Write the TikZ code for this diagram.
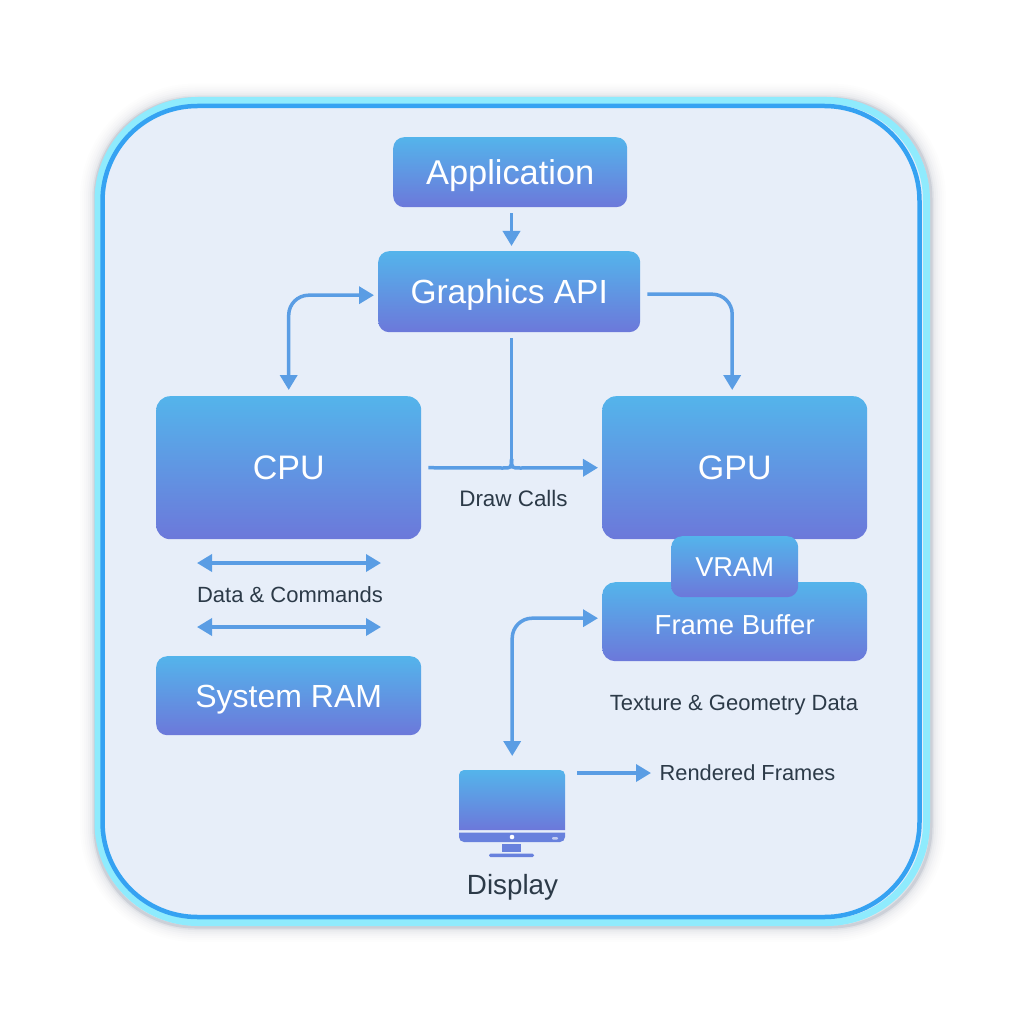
\documentclass[tikz,border=0pt]{standalone}
\usepackage{fontspec}
\setmainfont{Liberation Sans}
\usetikzlibrary{arrows.meta,calc}
\definecolor{btop}{HTML}{54B4EB}
\definecolor{bbot}{HTML}{6C78DA}
\definecolor{conncol}{HTML}{5A9DE4}
\definecolor{panelfill}{HTML}{E7EEF9}
\definecolor{panelcyan}{HTML}{8FEBFD}
\definecolor{panelblue}{HTML}{35A2F2}
\definecolor{inktxt}{HTML}{2C3A48}
\definecolor{shadowcol}{HTML}{1E3A5A}
\newcommand{\fsz}[1]{\fontsize{#1}{#1}\selectfont}
\tikzset{
  box/.style={rectangle,rounded corners=#1,top color=btop,bottom color=bbot,middle color=btop!50!bbot,draw=none,text=white,inner sep=0pt,anchor=north west},
  box/.default=11pt,
  base/.style={text height=#1,text depth=0pt},
  conn/.style={draw=conncol,line width=3.5pt,rounded corners=20pt,-{Triangle[length=15pt,width=17pt]}},
  dbl/.style={conn,{Triangle[length=15pt,width=17pt]}-{Triangle[length=15pt,width=17pt]}},
  plain/.style={draw=conncol,line width=3.5pt},
  lbl/.style={text=inktxt,inner sep=0pt,anchor=center},
}
\begin{document}
\begin{tikzpicture}[x=1pt,y=-1pt]
\useasboundingbox (0,0) rectangle (1024,1024);
\fill[white] (0,0) rectangle (1024,1024);
% soft shadow
\foreach \w/\o in {30/0.006,26/0.008,22/0.01,18/0.012,14/0.018,10/0.025,6/0.05,3/0.1}{
  \draw[shadowcol,opacity=\o,line width=\w pt,rounded corners=100pt] (95,98.5) rectangle (931,927);
}
% panel
\draw[draw=panelcyan,fill=panelfill,line width=7pt,rounded corners=100pt] (98,100.5) rectangle (926.5,922.5);
\draw[draw=panelblue,line width=4.5pt,rounded corners=95pt] (102.5,106) rectangle (919.5,917);
% boxes
\node[box,base=24pt,minimum width=234pt,minimum height=70pt] (app) at (393,137) {\fsz{34.4}Application};
\node[box,base=23pt,minimum width=262pt,minimum height=81pt] (api) at (378,251) {\fsz{33.5}Graphics API};
\node[box=14pt,minimum width=265pt,minimum height=143pt] (cpu) at (156,396) {\fsz{34}CPU};
\node[box=14pt,minimum width=265pt,minimum height=143pt] (gpu) at (602,396) {\fsz{34}GPU};
\node[box=13pt,base=25pt,minimum width=265pt,minimum height=79pt] (fb) at (602,582) {\fsz{27.5}Frame Buffer};
\node[box,minimum width=127pt,minimum height=61pt] (vram) at (671,536) {\fsz{27.3}VRAM};
\node[box,base=23pt,minimum width=265pt,minimum height=79pt] (ram) at (156,656) {\fsz{32}System RAM};
% monitor
\node[rectangle,inner sep=0pt,anchor=north west,minimum width=106pt,minimum height=60pt] (mon) at (459,770) {};
\path[top color=btop,bottom color=bbot,middle color=btop!50!bbot] (459,830) [rounded corners=5pt] -- (459,770) -- (565,770) [sharp corners] -- (565,830) -- cycle;
\fill[bbot!85!btop] (459,832.5) -- (565,832.5) [rounded corners=5pt] -- (565,842) -- (459,842) [sharp corners] -- cycle;
\fill[bbot!85!btop] (502,844) rectangle (521,852);
\fill[bbot!85!btop,rounded corners=1.5pt] (489,853.5) rectangle (534,857);
\fill[white] (512,837) circle (2.3pt);
\fill[white,opacity=.6,rounded corners=1pt] (552,837) rectangle (558,839.5);
% labels
\node[lbl] (dc) at (513.5,498) {\fsz{22.4}Draw Calls};
\node[lbl] (dac) at (290,595) {\fsz{22}Data \& Commands};
\node[lbl] (tgd) at (734,705) {\fsz{22}Texture \& Geometry Data};
\node[lbl] (rf) at (747.5,773) {\fsz{21.8}Rendered Frames};
\node[lbl] (disp) at (512.5,887.5) {\fsz{27.8}Display};
% connectors
\coordinate (jn) at (511.5,468);
\coordinate (dacl) at (197,563);
\coordinate (dacr) at (381,563);
\coordinate (ramtl) at (197,627);
\coordinate (ramtr) at (381,627);
\coordinate (rfs) at (577,773);
\coordinate (rfe) at (651,773);
\draw[conn,shorten <=6pt,shorten >=5pt] (app.south -| jn) -- (api.north -| jn);
\draw[dbl,shorten <=4pt,shorten >=6pt] ([yshift=-3.5pt]api.west) -| (cpu.north);
\draw[conn,shorten <=7pt,shorten >=6pt] ([yshift=-2.5pt]api.east) -| ([xshift=-2.5pt]gpu.north);
\draw[plain,shorten <=7pt] (cpu.east) -- ([xshift=-9pt]jn) .. controls (jn) .. ([yshift=9pt]jn);
\draw[conn,shorten >=4pt,rounded corners=0pt] ([yshift=9pt]jn) .. controls (jn) .. ([xshift=9pt]jn) -- (gpu.west);
\draw[plain,shorten <=6pt] (api.south -| jn) -- ([yshift=8pt]jn);
\draw[dbl] (dacl) -- (dacr);
\draw[dbl] (ramtl) -- (ramtr);
\draw[dbl,shorten <=4pt,shorten >=14pt] ([yshift=3.5pt]fb.west) -| (mon.north);
\draw[conn] (rfs) -- (rfe);
\end{tikzpicture}
\end{document}
